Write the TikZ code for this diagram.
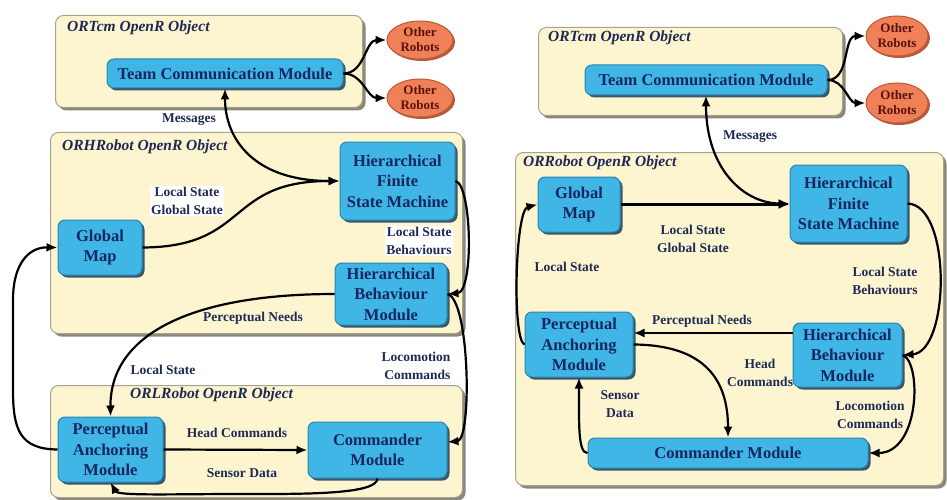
\documentclass[tikz,border=0pt]{standalone}
\usepackage{fontspec}
\setmainfont{Liberation Serif}
\usetikzlibrary{arrows.meta,shadows,calc,shapes.geometric}
\definecolor{boxfill}{HTML}{FCF5D0}
\definecolor{boxline}{HTML}{A8A48C}
\definecolor{boxshadow}{HTML}{8A887A}
\definecolor{modfill}{HTML}{3FB6E6}
\definecolor{modline}{HTML}{2A86B0}
\definecolor{modshadow}{HTML}{3A5868}
\definecolor{modtext}{HTML}{152660}
\definecolor{robfill}{HTML}{F08058}
\definecolor{robline}{HTML}{B85A38}
\definecolor{robtext}{HTML}{5A1208}
\definecolor{lbltext}{HTML}{1E2A55}
\begin{document}
\begin{tikzpicture}[x=1pt,y=-1pt,
  container/.style={draw=boxline,fill=boxfill,line width=1pt,rounded corners=8pt,anchor=north west,inner sep=0pt,
    drop shadow={shadow xshift=3pt,shadow yshift=-3pt,fill=boxshadow,opacity=1}},
  objlbl/.style={anchor=west,inner sep=0pt,text=lbltext,font=\fontsize{15.5}{18}\selectfont\bfseries\itshape},
  module/.style={draw=modline,fill=modfill,line width=1pt,rounded corners=7pt,align=center,inner sep=1pt,text=modtext,
    font=\fontsize{16.5}{20.5}\selectfont\bfseries,
    drop shadow={shadow xshift=2.5pt,shadow yshift=-2.5pt,fill=modshadow,opacity=1}},
  robot/.style={ellipse,draw=robline,fill=robfill,line width=1pt,align=center,inner sep=0pt,text=robtext,
    font=\fontsize{13}{15}\selectfont\bfseries,
    drop shadow={shadow xshift=2pt,shadow yshift=-2pt,fill=robline,opacity=1}},
  lbl/.style={align=center,inner sep=1pt,text=lbltext,font=\fontsize{13.5}{18}\selectfont\bfseries},
  arr/.style={line width=2.2pt,-{Latex[length=11pt,width=9pt]}},
  arrb/.style={line width=2.2pt,{Latex[length=11pt,width=9pt]}-{Latex[length=11pt,width=9pt]}}
]
\useasboundingbox (0,0) rectangle (947,500);
\fill[white] (0,0) rectangle (947,500);

% ---------------- LEFT ----------------
\node[container,minimum width=307pt,minimum height=92pt] (cTcmL) at (55,15) {};
\node[container,minimum width=412pt,minimum height=201pt] (cHrL) at (50,132) {};
\node[container,minimum width=412pt,minimum height=112pt] (cLrL) at (50,385) {};
\node[objlbl] (oTcmL) at (67,28) {ORTcm OpenR Object};
\node[objlbl] (oHrL) at (62,147) {ORHRobot OpenR Object};
\node[objlbl] (oLrL) at (130,395) {ORLRobot OpenR Object};

\node[module,minimum width=236pt,minimum height=29pt] (tcmL) at (225,73.5) {Team Communication Module};
\node[module,minimum width=115pt,minimum height=78pt] (hfsmL) at (397.5,181) {Hierarchical\\Finite\\State Machine};
\node[module,minimum width=84pt,minimum height=55pt] (gmL) at (100,247.5) {Global\\Map};
\node[module,minimum width=112pt,minimum height=62pt] (hbmL) at (391,294) {Hierarchical\\Behaviour\\Module};
\node[module,minimum width=105pt,minimum height=65pt] (pamL) at (110.5,449.5) {Perceptual\\Anchoring\\Module};
\node[module,minimum width=139pt,minimum height=56pt] (cmdL) at (377.5,450) {Commander\\Module};
\node[robot,minimum width=66pt,minimum height=38pt] (robL1) at (420,40) {Other\\Robots};
\node[robot,minimum width=66pt,minimum height=38pt] (robL2) at (420,98) {Other\\Robots};

\draw[arr] (tcmL.east) to[out=0,in=180] (robL1.west);
\draw[arr] (tcmL.east) to[out=0,in=180] (robL2.west);
\draw[arrb] (tcmL.south) .. controls (225,140) and (255,181) .. (hfsmL.west);
\draw[arr] (gmL.east) .. controls (250,247) and (225,181) .. (hfsmL.west);
\draw[arr] (hfsmL.east) .. controls (472,185) and (474,292) .. (hbmL.east);
\draw[arr] (hbmL.east) .. controls (470,300) and (472,440) .. ([yshift=8pt]cmdL.east);
\draw[arr] (hbmL.west) .. controls (190,294) and (110,335) .. (pamL.north);
\draw[arr] (pamL.east) -- (cmdL.west);
\draw[arr] (cmdL.south) .. controls (377,495) and (300,494) .. (240,494) .. controls (170,494) and (118,496) .. (pamL.south);
\draw[arr] (pamL.west) .. controls (20,449) and (13,430) .. (13,390) -- (13,300) .. controls (13,262) and (30,247) .. (gmL.west);

\node[lbl] (mL) at (189,120) {Messages};
\node[lbl,fill=white] (lsgsL) at (187,201) {Local State\\Global State};
\node[lbl,fill=white,align=right] (lsbL) at (419,241) {Local State\\Behaviours};
\node[lbl] (pnL) at (253,318) {Perceptual Needs};
\node[lbl] (lsL) at (163,370) {Local State};
\node[lbl,align=right] (lcL) at (416,366) {Locomotion\\Commands};
\node[lbl] (hcL) at (237,433) {Head Commands};
\node[lbl] (sdL) at (242,473) {Sensor Data};

% ---------------- RIGHT ----------------
\node[container,minimum width=304pt,minimum height=88pt] (cTcmR) at (538,27) {};
\node[container,minimum width=428pt,minimum height=333pt] (cRrR) at (515,152) {};
\node[objlbl] (oTcmR) at (548,38) {ORTcm OpenR Object};
\node[objlbl] (oRrR) at (523,163) {ORRobot OpenR Object};

\node[module,minimum width=242pt,minimum height=30pt] (tcmR) at (706,80) {Team Communication Module};
\node[module,minimum width=117pt,minimum height=77pt] (hfsmR) at (848.5,203.5) {Hierarchical\\Finite\\State Machine};
\node[module,minimum width=82pt,minimum height=55pt] (gmR) at (579,204.5) {Global\\Map};
\node[module,minimum width=108pt,minimum height=65pt] (pamR) at (579,344.5) {Perceptual\\Anchoring\\Module};
\node[module,minimum width=109pt,minimum height=64pt] (hbmR) at (847.5,355) {Hierarchical\\Behaviour\\Module};
\node[module,minimum width=280pt,minimum height=30pt] (cmdR) at (728,453) {Commander Module};
\node[robot,minimum width=62pt,minimum height=40pt] (robR1) at (897,36) {Other\\Robots};
\node[robot,minimum width=62pt,minimum height=40pt] (robR2) at (897,103) {Other\\Robots};
\coordinate (pnR) at (0,333);

\draw[arr] (tcmR.east) to[out=0,in=180] (robR1.west);
\draw[arr] (tcmR.east) to[out=0,in=180] (robR2.west);
\draw[arrb] (tcmR.south) .. controls (706,170) and (745,203.5) .. (hfsmR.west);
\draw[arr] (gmR.east) -- (gmR.east -| hfsmR.west);
\draw[arr] (hfsmR.east) .. controls (952,205) and (950,352) .. (hbmR.east);
\draw[arr] (hbmR.east) .. controls (922,362) and (920,453) .. (cmdR.east);
\draw[arr] (hbmR.west |- pnR) -- (pamR.east |- pnR);
\draw[arr] (pamR.east) .. controls (705,345) and (728,380) .. (cmdR.north);
\draw[arr] (cmdR.west) .. controls (578,453) and (579,425) .. (pamR.south);
\draw[arr] (pamR.west) .. controls (512,340) and (515,210) .. (gmR.west);

\node[lbl] (mR) at (750,137) {Messages};
\node[lbl] (lsgsR) at (693,239) {Local State\\Global State};
\node[lbl] (lsR) at (567,267) {Local State};
\node[lbl] (lsbR) at (885,281) {Local State\\Behaviours};
\node[lbl] (pnRl) at (702,321) {Perceptual Needs};
\node[lbl] (hcR) at (760,373) {Head\\Commands};
\node[lbl] (sdR) at (620,404) {Sensor\\Data};
\node[lbl] (lcR) at (870,415) {Locomotion\\Commands};
\end{tikzpicture}
\end{document}
